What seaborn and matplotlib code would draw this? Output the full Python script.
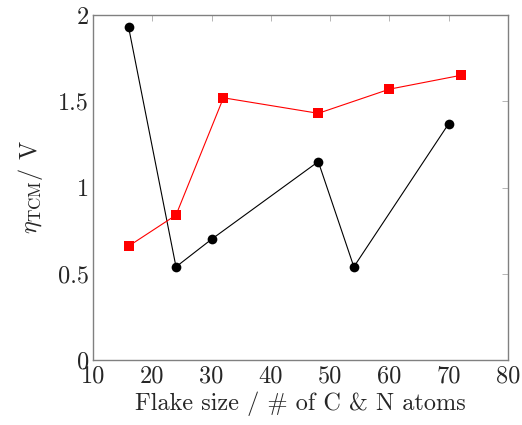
import matplotlib
matplotlib.use("Agg")
import matplotlib.pyplot as plt
import seaborn as sns

# data
flake_black = [16, 24, 30, 48, 54, 70]
eta_black = [1.93, 0.54, 0.70, 1.15, 0.54, 1.37]
flake_red = [16, 24, 32, 48, 60, 72]
eta_red = [0.66, 0.84, 1.52, 1.43, 1.57, 1.65]

x_ticks = [10, 20, 30, 40, 50, 60, 70, 80]
y_ticks = [0, 0.5, 1, 1.5, 2]
y_tick_labels = ["0", "0.5", "1", "1.5", "2"]

sns.set_style("white")
plt.rcParams["font.family"] = "serif"
plt.rcParams["font.serif"] = ["cmr10", "DejaVu Serif"]
plt.rcParams["mathtext.fontset"] = "cm"
plt.rcParams["axes.unicode_minus"] = False

fig = plt.figure(figsize=(5.22, 4.25), dpi=100)
ax = fig.add_axes([93 / 522, 1 - 360 / 425, 415 / 522, 345 / 425])

sns.lineplot(x=flake_black, y=eta_black, color="black", marker="o", markersize=7,
             markeredgewidth=0, linewidth=0.8, estimator=None, sort=False, ax=ax)
sns.lineplot(x=flake_red, y=eta_red, color="red", marker="s", markersize=6.5,
             markeredgewidth=0, linewidth=0.8, estimator=None, sort=False, ax=ax)

ax.set_xlim(10, 80)
ax.set_ylim(0, 2)
ax.set_xticks(x_ticks)
ax.set_xticklabels([str(v) for v in x_ticks])
ax.set_yticks(y_ticks)
ax.set_yticklabels(y_tick_labels)
ax.tick_params(direction="in", length=4, width=0.6, color="#aaaaaa",
               top=True, right=True, labelsize=17.5)
ax.tick_params(axis="x", pad=4)
ax.tick_params(axis="y", pad=3)
for spine in ax.spines.values():
    spine.set_color("#808080")
    spine.set_linewidth(1.0)

ax.set_xlabel("Flake size / # of C & N atoms", fontsize=17.5, labelpad=3)
ax.set_ylabel(r"$\eta_{\mathrm{TCM}}$/ V", fontsize=17.5, labelpad=9)

fig.savefig("out.png", dpi=100)
